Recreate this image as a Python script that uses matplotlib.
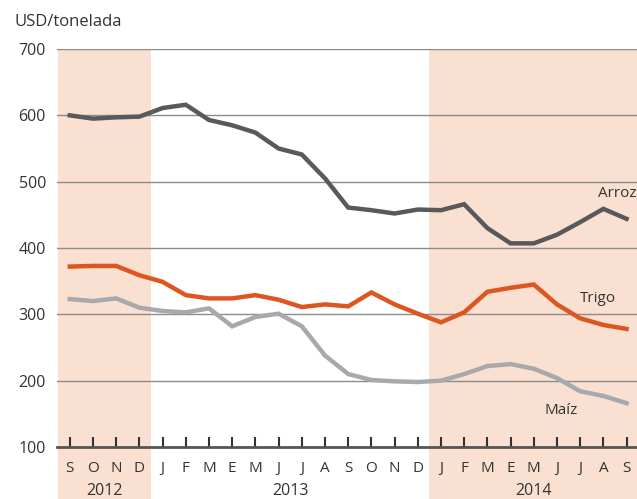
import numpy as np
import matplotlib
matplotlib.use('Agg')
import matplotlib.pyplot as plt
import matplotlib.transforms as mtransforms

plt.rcParams['font.family'] = ['Open Sans', 'DejaVu Sans']

months = ['S', 'O', 'N', 'D',
          'J', 'F', 'M', 'E', 'M', 'J', 'J', 'A', 'S', 'O', 'N', 'D',
          'J', 'F', 'M', 'E', 'M', 'J', 'J', 'A', 'S']
years = ['2012', '2013', '2014']
year_spans = [(0, 3), (4, 15), (16, 24)]

arroz = [600, 595, 597, 598, 611, 616, 593, 585, 574, 550, 541, 505,
         461, 457, 452, 458, 457, 466, 430, 407, 407, 420, 439, 459, 444]
trigo = [372, 373, 373, 359, 349, 329, 324, 324, 329, 322, 311, 315,
         312, 333, 315, 301, 288, 303, 334, 340, 345, 315, 294, 284, 278]
maiz = [323, 320, 324, 310, 305, 303, 309, 282, 296, 301, 282, 238,
        210, 201, 199, 198, 200, 210, 222, 225, 218, 204, 184, 177, 166]

x = np.arange(len(months))

fig = plt.figure(figsize=(6.37, 4.99), dpi=100)
ax = fig.add_axes([0.0895, 0.1042, 0.9105, 0.7976])

shade = '#f9e0d0'
ax.axvspan(-0.5, 3.5, ymin=-0.15, ymax=1, color=shade, clip_on=False, zorder=0, lw=0)
ax.axvspan(15.5, 25, ymin=-0.15, ymax=1, color=shade, clip_on=False, zorder=0, lw=0)

for v in range(200, 701, 100):
    ax.axhline(v, color='#8c8c8c', lw=1.0, zorder=1)

ax.plot(x, arroz, color='#58595b', lw=3.2, zorder=3, solid_joinstyle='miter')
ax.plot(x, trigo, color='#dd5520', lw=3.2, zorder=3, solid_joinstyle='miter')
ax.plot(x, maiz, color='#a7a9ac', lw=3.2, zorder=3, solid_joinstyle='miter')

ax.text(24.42, 482, 'Arroz', fontsize=11, color='#333333', ha='right', va='center')
ax.text(22.0, 324, 'Trigo', fontsize=11, color='#333333', ha='left', va='center')
ax.text(20.45, 155, 'Maíz', fontsize=11, color='#333333', ha='left', va='center')

ax.set_xlim(-0.55, 24.45)
ax.set_ylim(100, 700)
ax.set_yticks(range(100, 701, 100))
ax.set_xticks(x)
ax.set_xticklabels(months, fontsize=11, color='#333333')
ax.tick_params(axis='x', direction='in', length=7, width=1.5, color='#333333', pad=10)
ax.tick_params(axis='y', length=0, labelsize=11.5, labelcolor='#333333', pad=8)

for s in ['top', 'right', 'left']:
    ax.spines[s].set_visible(False)
ax.spines['bottom'].set_color('#555555')
ax.spines['bottom'].set_linewidth(2)
ax.set_facecolor('none')

trans = mtransforms.blended_transform_factory(ax.transData, ax.transAxes)
for yr, (a, b) in zip(years, year_spans):
    ax.text((a + b) / 2, -0.11, yr, transform=trans, fontsize=11.5,
            color='#333333', ha='center', va='center')

fig.text(0.022, 0.955, 'USD/tonelada', fontsize=12, color='#333333', ha='left', va='center')

fig.savefig('out.png', dpi=100)
